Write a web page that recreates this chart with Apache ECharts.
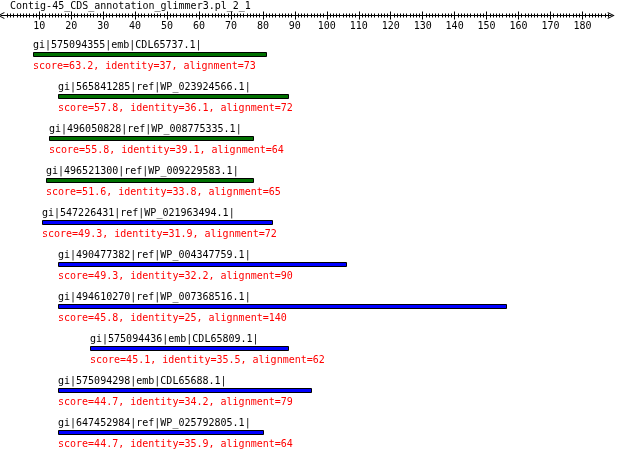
<!DOCTYPE html>
<html>
<head>
<meta charset="utf-8">
<script src="https://cdn.jsdelivr.net/npm/echarts@6/dist/echarts.min.js"></script>
<style>html,body{margin:0;padding:0;background:#fff;}#c{width:620px;height:461px;}</style>
</head>
<body>
<div id="c"></div>
<script>
const chartTitle = 'Contig-45_CDS_annotation_glimmer3.pl_2_1';
const hitNames = [
  'gi|575094355|emb|CDL65737.1|',
  'gi|565841285|ref|WP_023924566.1|',
  'gi|496050828|ref|WP_008775335.1|',
  'gi|496521300|ref|WP_009229583.1|',
  'gi|547226431|ref|WP_021963494.1|',
  'gi|490477382|ref|WP_004347759.1|',
  'gi|494610270|ref|WP_007368516.1|',
  'gi|575094436|emb|CDL65809.1|',
  'gi|575094298|emb|CDL65688.1|',
  'gi|647452984|ref|WP_025792805.1|'
];
const queryStarts = [8, 16, 13, 12, 11, 16, 16, 26, 16, 16];
const alignments = [73, 72, 64, 65, 72, 90, 140, 62, 79, 64];
const scores = [63.2, 57.8, 55.8, 51.6, 49.3, 49.3, 45.8, 45.1, 44.7, 44.7];
const identities = [37, 36.1, 39.1, 33.8, 31.9, 32.2, 25, 35.5, 34.2, 35.9];
const tickLabels = [10, 20, 30, 40, 50, 60, 70, 80, 90, 100, 110, 120, 130, 140, 150, 160, 170, 180];
const minorTicks = [];
for (let v = 0; v <= 188; v++) minorTicks.push(v);
const axisMin = -2, axisMax = 189;

const FONT = '"DejaVu Sans Mono", monospace';
const data = hitNames.map((n, i) => [queryStarts[i], queryStarts[i] + alignments[i], i]);

const chart = echarts.init(document.getElementById('c'), null, {renderer: 'canvas'});
const baseAxis = {
  type: 'value', position: 'top', min: axisMin, max: axisMax, offset: 18,
  splitLine: {show: false}
};
const chevronUp = 'path://M0,10 L5,0 L10,10 L8.6,10 L5,2.8 L1.4,10 Z';
chart.setOption({
  animation: false,
  backgroundColor: '#fff',
  graphic: [{
    type: 'text', x: 10, y: 6.3, z: 100,
    style: {text: chartTitle, font: '10px ' + FONT, fill: '#000', verticalAlign: 'middle', align: 'left'}
  }],
  grid: {left: 0.9, right: 8.8, top: 33.5, bottom: 7.5, containLabel: false},
  xAxis: [
    Object.assign({}, baseAxis, {
      axisLine: {show: true, lineStyle: {color: '#000', width: 1},
        symbol: [chevronUp, chevronUp],
        symbolSize: [10, 7]},
      axisTick: {show: true, length: 4, lineStyle: {color: '#000'}, customValues: tickLabels},
      axisLabel: {show: true, inside: true, margin: 6, customValues: tickLabels,
        fontFamily: FONT, fontSize: 10, color: '#000'}
    }),
    Object.assign({}, baseAxis, {
      axisLine: {show: false},
      axisTick: {show: true, inside: true, length: 4, lineStyle: {color: '#000'}, customValues: tickLabels},
      axisLabel: {show: false}
    }),
    Object.assign({}, baseAxis, {
      axisLine: {show: false},
      axisTick: {show: true, length: 2, lineStyle: {color: '#000'}, customValues: minorTicks},
      axisLabel: {show: false}
    }),
    Object.assign({}, baseAxis, {
      axisLine: {show: false},
      axisTick: {show: true, inside: true, length: 2, lineStyle: {color: '#000'}, customValues: minorTicks},
      axisLabel: {show: false}
    })
  ],
  yAxis: {type: 'category', data: hitNames, inverse: true, show: false},
  series: [{
    type: 'custom',
    xAxisIndex: 0,
    encode: {x: [0, 1], y: 2},
    data: data,
    renderItem: function (params, api) {
      const i = api.value(2);
      const s = api.coord([api.value(0), i]);
      const e = api.coord([api.value(1), i]);
      const x0 = Math.round(s[0]) + 0.5;
      const x1 = Math.round(e[0]) + 0.5;
      const cy = s[1];
      const color = scores[i] >= 50 ? '#007000' : '#0000ff';
      return {
        type: 'group',
        children: [
          {type: 'rect', shape: {x: x0, y: Math.floor(cy) - 1.5, width: x1 - x0, height: 4},
           style: {fill: color, stroke: '#000', lineWidth: 1}},
          {type: 'text', style: {x: x0 - 0.5, y: cy - 9, text: hitNames[i], fill: '#000',
            font: '10px ' + FONT, verticalAlign: 'middle', align: 'left'}},
          {type: 'text', style: {x: x0 - 0.5, y: cy + 12, fill: '#ff0000', font: '10px ' + FONT,
            verticalAlign: 'middle', align: 'left',
            text: 'score=' + scores[i] + ', identity=' + identities[i] + ', alignment=' + alignments[i]}}
        ]
      };
    }
  }]
});
</script>
</body>
</html>
